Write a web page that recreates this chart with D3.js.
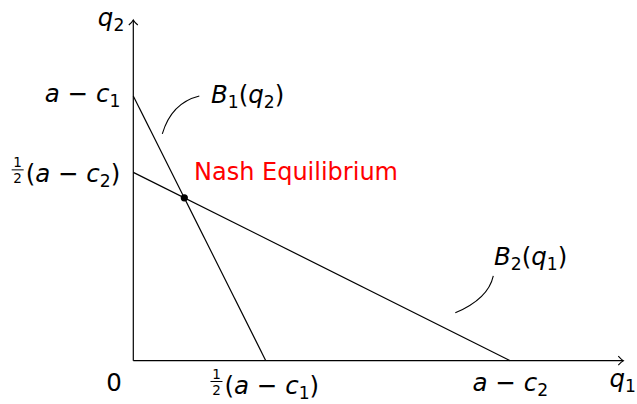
<!DOCTYPE html>
<html>
<head>
<meta charset="utf-8">
<script src="https://cdn.jsdelivr.net/npm/d3@7"></script>
<style>
  body { margin: 0; background: #fff; }
  text { font-family: "DejaVu Sans", "Open Sans", sans-serif; fill: #000; }
</style>
</head>
<body>
<div id="chart"></div>
<script>
// chart size
var width = 637,
    height = 404;

// values (axis units)
var aMinusC1 = 2.65;     // q2-intercept of B1
var aMinusC2 = 3.77;     // q1-intercept of B2
var xMax = 4.9, yMax = 3.41;

// best response lines: [q1, q2] pairs
var b1Line = [[0, aMinusC1], [aMinusC1 / 2, 0]];
var b2Line = [[0, aMinusC2 / 2], [aMinusC2, 0]];
// nash point = intersection
var nash = [(2 * aMinusC1 - aMinusC2) / 3, (2 * aMinusC2 - aMinusC1) / 3];

// leader curves for labels [start, control, end]
var b1Leader = [[0.29, 2.27], [0.38, 2.58], [0.66, 2.65]];
var b2Leader = [[3.22, 0.48], [3.55, 0.62], [3.6, 0.85]];

var svg = d3.select("#chart").append("svg")
    .attr("width", width)
    .attr("height", height);

var x = d3.scaleLinear().domain([0, xMax]).range([133.3, 623.3]);
var y = d3.scaleLinear().domain([0, yMax]).range([360.7, 20]);

// arrow head like tikz ->
svg.append("defs").append("marker")
    .attr("id", "arr")
    .attr("viewBox", "-6 -6 8 12")
    .attr("markerWidth", 8).attr("markerHeight", 12)
    .attr("markerUnits", "userSpaceOnUse")
    .attr("orient", "auto")
    .append("path")
    .attr("d", "M-5,-4.5 Q-2,-1 0,0 Q-2,1 -5,4.5")
    .attr("fill", "none").attr("stroke", "#000").attr("stroke-width", 1.1);

// axes
svg.append("line")
    .attr("x1", x(0)).attr("y1", y(0)).attr("x2", x(xMax)).attr("y2", y(0))
    .attr("stroke", "#000").attr("stroke-width", 1.2)
    .attr("marker-end", "url(#arr)");
svg.append("line")
    .attr("x1", x(0)).attr("y1", y(0)).attr("x2", x(0)).attr("y2", y(yMax))
    .attr("stroke", "#000").attr("stroke-width", 1.2)
    .attr("marker-end", "url(#arr)");

var line = d3.line().x(d => x(d[0])).y(d => y(d[1]));

svg.selectAll(".resp")
    .data([b1Line, b2Line])
    .enter().append("path")
    .attr("class", "resp")
    .attr("d", line)
    .attr("fill", "none")
    .attr("stroke", "#000")
    .attr("stroke-width", 1.2);

function leader(p) {
  var path = d3.path();
  path.moveTo(x(p[0][0]), y(p[0][1]));
  path.quadraticCurveTo(x(p[1][0]), y(p[1][1]), x(p[2][0]), y(p[2][1]));
  return path.toString();
}
svg.selectAll(".lead")
    .data([b1Leader, b2Leader])
    .enter().append("path")
    .attr("d", leader)
    .attr("fill", "none")
    .attr("stroke", "#000")
    .attr("stroke-width", 1.1);

svg.append("circle")
    .attr("cx", x(nash[0])).attr("cy", y(nash[1]))
    .attr("r", 3.6).attr("fill", "#000");

// math text helper. parts: [text, style] style: "i" italic, "s" subscript, "u" back up, "" roman
var fs = 24.5;
function math(px, py, parts, anchor, color) {
  var t = svg.append("text")
      .attr("x", px).attr("y", py)
      .attr("font-size", fs)
      .attr("text-anchor", anchor || "start");
  if (color) t.style("fill", color);
  parts.forEach(function(p) {
    var s = t.append("tspan").text(p[0]);
    if (p[1] == "i") s.attr("font-style", "italic");
    if (p[1] == "s") s.attr("font-size", fs * 0.7).attr("dy", 5);
    if (p[1] == "u") s.attr("dy", -5);
  });
  return t;
}
function half(px, py) {
  // small 1/2 fraction, px = left edge, py = baseline of main text
  svg.append("text").attr("x", px + 6).attr("y", py - 15)
      .attr("font-size", 13.5).attr("text-anchor", "middle").text("1");
  svg.append("line").attr("x1", px).attr("x2", px + 12)
      .attr("y1", py - 12.5).attr("y2", py - 12.5)
      .attr("stroke", "#000").attr("stroke-width", 1);
  svg.append("text").attr("x", px + 6).attr("y", py + 1)
      .attr("font-size", 13.5).attr("text-anchor", "middle").text("2");
}

var M = " \u2212 ";

// axis titles
math(x(0) - 9, 26, [["q", "i"], ["2", "s"]], "end");
math(636, 387, [["q", "i"], ["1", "s"]], "end");

// y labels
math(x(0) - 13, y(aMinusC1) + 6.5, [["a", "i"], [M, ""], ["c", "i"], ["1", "s"]], "end");
var lab = math(x(0) - 13, y(aMinusC2 / 2) + 10,
    [["(", ""], ["a", "i"], [M, ""], ["c", "i"], ["2", "s"], [")", "u"]], "end");
half(x(0) - 13 - lab.node().getComputedTextLength() - 14, y(aMinusC2 / 2) + 10);

// x labels
math(114, 391, [["0", ""]], "middle");
var lab2 = math(x(aMinusC1 / 2) + 6, 394,
    [["(", ""], ["a", "i"], [M, ""], ["c", "i"], ["1", "s"], [")", "u"]], "middle");
half(x(aMinusC1 / 2) + 6 - lab2.node().getComputedTextLength() / 2 - 14, 394);
math(x(aMinusC2), 391, [["a", "i"], [M, ""], ["c", "i"], ["2", "s"]], "middle");

// curve labels
math(211, 103, [["B", "i"], ["1", "s"], ["(", "u"], ["q", "i"], ["2", "s"], [")", "u"]]);
math(494, 265, [["B", "i"], ["2", "s"], ["(", "u"], ["q", "i"], ["1", "s"], [")", "u"]]);

math(194, 180, [["Nash Equilibrium", ""]], "start", "#ff0000").attr("font-size", 24);
</script>
</body>
</html>
